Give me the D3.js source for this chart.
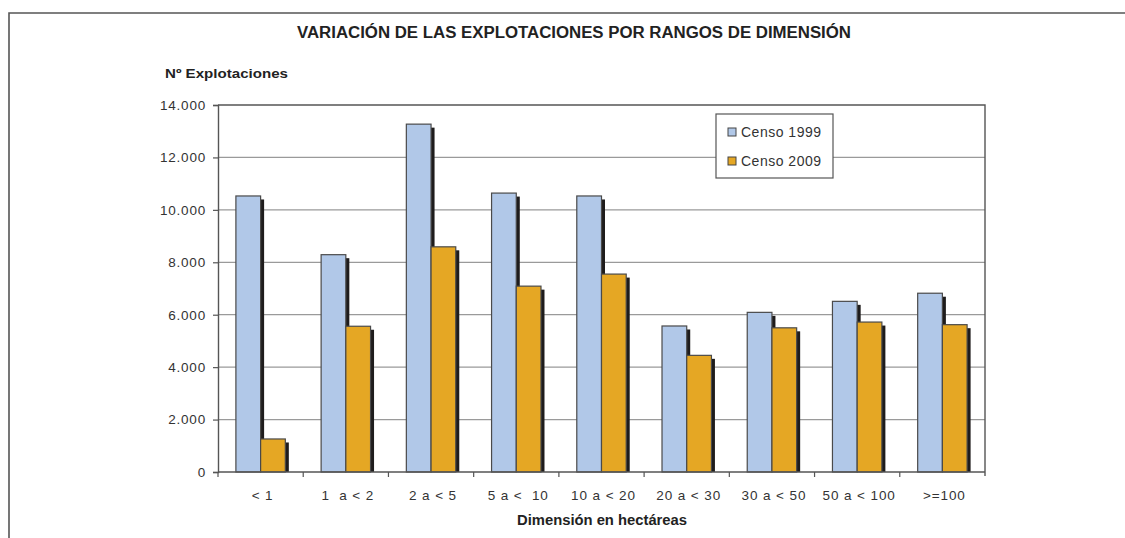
<!DOCTYPE html>
<html>
<head>
<meta charset="UTF-8">
<script src="https://d3js.org/d3.v7.min.js"></script>
<style>
  body { margin: 0; background: #fff; }
  svg { display: block; font-family: "Liberation Sans", Arial, Helvetica, sans-serif; }
  .tick text { fill: #333; }
</style>
</head>
<body>
<div id="chart"></div>
<script>
  // categories and values
  var categories = ["< 1", "1  a < 2", "2 a < 5", "5 a <  10", "10 a < 20", "20 a < 30", "30 a < 50", "50 a < 100", ">=100"];
  var censo1999 = [10530, 8290, 13270, 10640, 10530, 5570, 6090, 6510, 6820];
  var censo2009 = [1260, 5560, 8590, 7090, 7550, 4450, 5500, 5720, 5620];
  var seriesNames = ["Censo 1999", "Censo 2009"];
  var seriesColors = ["#b1c8e8", "#e5a724"];
  var yTicks = [0, 2000, 4000, 6000, 8000, 10000, 12000, 14000];

  var width = 1125, height = 538;
  var plotLeft = 218, plotRight = 985, plotTop = 105, plotBottom = 472;

  var svg = d3.select("#chart").append("svg")
      .attr("width", width)
      .attr("height", height);

  // outer frame (top and left only)
  svg.append("path")
      .attr("d", "M9,538V13H1125")
      .attr("fill", "none")
      .attr("stroke", "#555")
      .attr("stroke-width", 1.6);

  svg.append("text")
      .attr("x", 574).attr("y", 38)
      .attr("text-anchor", "middle")
      .attr("font-weight", "bold")
      .attr("font-size", 16)
      .attr("fill", "#222")
      .attr("textLength", 554)
      .attr("lengthAdjust", "spacingAndGlyphs")
      .text("VARIACIÓN DE LAS EXPLOTACIONES POR RANGOS DE DIMENSIÓN");

  svg.append("text")
      .attr("x", 165).attr("y", 78)
      .attr("font-weight", "bold")
      .attr("font-size", 13)
      .attr("fill", "#222")
      .attr("textLength", 123)
      .attr("lengthAdjust", "spacingAndGlyphs")
      .text("Nº Explotaciones");

  var x = d3.scaleBand().domain(categories).range([plotLeft, plotRight]).paddingInner(0).paddingOuter(0);
  var y = d3.scaleLinear().domain([0, 14000]).range([plotBottom, plotTop]);

  // gridlines
  svg.append("g").selectAll("line")
      .data(yTicks.filter(function(d) { return d > 0 && d < 14000; }))
      .enter().append("line")
      .attr("x1", plotLeft).attr("x2", plotRight)
      .attr("y1", function(d) { return y(d); })
      .attr("y2", function(d) { return y(d); })
      .attr("stroke", "#9a9a9a")
      .attr("stroke-width", 1.2);

  // plot border top + right
  svg.append("path")
      .attr("d", "M" + plotLeft + "," + y(14000) + "H" + plotRight + "V" + (plotBottom + 4))
      .attr("fill", "none")
      .attr("stroke", "#555")
      .attr("stroke-width", 1.4);

  var barW = x.bandwidth() * 0.29;
  var shadow = 3.5;

  var groups = svg.append("g").selectAll("g")
      .data(categories)
      .enter().append("g")
      .attr("transform", function(d) { return "translate(" + (x(d) + x.bandwidth() / 2 - barW) + ",0)"; });

  [censo1999, censo2009].forEach(function(vals, s) {
    groups.append("rect")
        .attr("x", function(d, i) { return s * barW + shadow; })
        .attr("y", function(d, i) { return y(vals[i]) + shadow; })
        .attr("width", barW)
        .attr("height", function(d, i) { return plotBottom - y(vals[i]) - shadow; })
        .attr("fill", "#1e1c1c");
    groups.append("rect")
        .attr("x", function(d, i) { return s * barW; })
        .attr("y", function(d, i) { return y(vals[i]); })
        .attr("width", barW)
        .attr("height", function(d, i) { return plotBottom - y(vals[i]); })
        .attr("fill", seriesColors[s])
        .attr("stroke", "#4a4a4a")
        .attr("stroke-width", 1.2);
  });

  // y axis
  var yAxis = svg.append("g")
      .attr("transform", "translate(" + plotLeft + ",0)")
      .call(d3.axisLeft(y).tickValues(yTicks).tickSize(5).tickPadding(7)
        .tickFormat(function(d) { return d3.format(",")(d).replace(/,/g, "."); }));
  yAxis.select(".domain").attr("stroke", "#555").attr("stroke-width", 1.4);
  yAxis.selectAll(".tick line").attr("stroke", "#555").attr("stroke-width", 1.2);
  yAxis.selectAll("text")
      .attr("font-size", 13.5)
      .attr("letter-spacing", 0.8)
      .attr("font-family", "'Liberation Sans', Arial");

  // x axis: baseline, ticks at band boundaries
  svg.append("line")
      .attr("x1", plotLeft).attr("x2", plotRight)
      .attr("y1", plotBottom).attr("y2", plotBottom)
      .attr("stroke", "#555").attr("stroke-width", 1.4);
  svg.append("g").selectAll("line")
      .data(categories)
      .enter().append("line")
      .attr("x1", function(d) { return x(d); })
      .attr("x2", function(d) { return x(d); })
      .attr("y1", plotBottom).attr("y2", plotBottom + 5)
      .attr("stroke", "#555").attr("stroke-width", 1.2);

  svg.append("g").selectAll("text")
      .data(categories)
      .enter().append("text")
      .attr("x", function(d) { return x(d) + x.bandwidth() / 2 + 2; })
      .attr("y", 500)
      .attr("text-anchor", "middle")
      .attr("font-size", 13.5)
      .attr("letter-spacing", 0.9)
      .attr("fill", "#333")
      .style("white-space", "pre")
      .text(function(d) { return d; });

  svg.append("text")
      .attr("x", 602).attr("y", 525)
      .attr("text-anchor", "middle")
      .attr("font-weight", "bold")
      .attr("font-size", 14)
      .attr("fill", "#222")
      .attr("textLength", 170)
      .attr("lengthAdjust", "spacingAndGlyphs")
      .text("Dimensión en hectáreas");

  // legend
  var legend = svg.append("g").attr("transform", "translate(716,114)");
  legend.append("rect")
      .attr("width", 117).attr("height", 64)
      .attr("fill", "#fff")
      .attr("stroke", "#555")
      .attr("stroke-width", 1.2);
  seriesNames.forEach(function(name, s) {
    legend.append("rect")
        .attr("x", 12).attr("y", 14 + s * 29)
        .attr("width", 8).attr("height", 8)
        .attr("fill", seriesColors[s])
        .attr("stroke", "#444")
        .attr("stroke-width", 1);
    legend.append("text")
        .attr("x", 25).attr("y", 23 + s * 29)
        .attr("font-size", 14)
        .attr("letter-spacing", 0.5)
        .attr("fill", "#333")
        .text(name);
  });
</script>
</body>
</html>
